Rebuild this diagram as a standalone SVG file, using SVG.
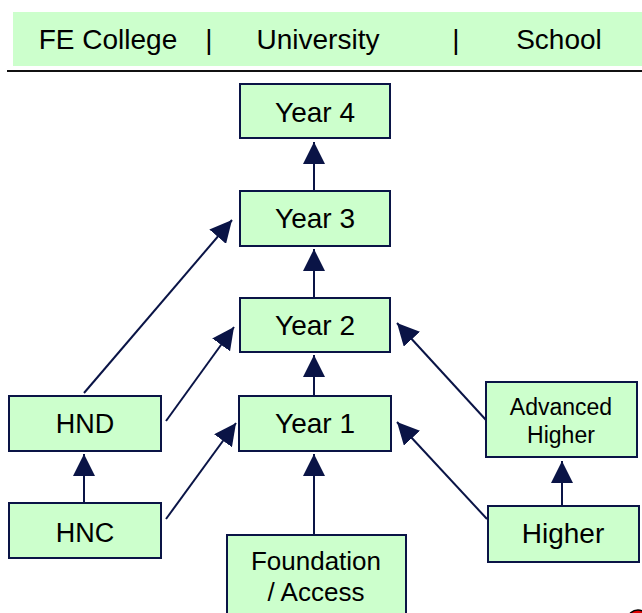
<svg xmlns="http://www.w3.org/2000/svg" width="642" height="613" viewBox="0 0 642 613">
<style>
.box{fill:#ccffcc;stroke:#0a1446;stroke-width:2}
.t{font-family:"Liberation Sans",Arial,sans-serif;fill:#000;text-anchor:middle}
.c{stroke:#0a1446;stroke-width:2;fill:none;marker-end:url(#ah)}
</style>
<defs>
<marker id="ah" markerUnits="userSpaceOnUse" markerWidth="22" markerHeight="22" viewBox="0 0 20 20" refX="20" refY="10" orient="auto">
<path d="M0,0 L20,10 L0,20 z" fill="#0a1446"/>
</marker>
</defs>
<g id="header">
<rect x="13" y="12" width="629" height="54" fill="#ccffcc"/>
<text class="t" x="108" y="49" font-size="28">FE College</text>
<text class="t" x="209" y="49" font-size="28">|</text>
<text class="t" x="318" y="49" font-size="28">University</text>
<text class="t" x="456" y="49" font-size="28">|</text>
<text class="t" x="559" y="49" font-size="28">School</text>
<line x1="7" y1="71" x2="642" y2="71" stroke="#111" stroke-width="2"/>
</g>
<g id="connectors">
<line class="c" x1="314" y1="191" x2="314" y2="142"/>
<line class="c" x1="314" y1="298" x2="314" y2="249"/>
<line class="c" x1="314" y1="396" x2="314" y2="355"/>
<line class="c" x1="314" y1="535" x2="314" y2="454"/>
<line class="c" x1="84" y1="503" x2="84" y2="454"/>
<line class="c" x1="562" y1="506" x2="562" y2="461"/>
<line class="c" x1="84" y1="393" x2="232" y2="220"/>
<line class="c" x1="166" y1="421" x2="234" y2="327"/>
<line class="c" x1="166" y1="519" x2="236" y2="423"/>
<line class="c" x1="486" y1="420" x2="397" y2="323"/>
<line class="c" x1="487" y1="519" x2="397" y2="422"/>
</g>
<g id="year4"><rect class="box" x="240" y="84" width="150" height="54"/><text class="t" x="315" y="122" font-size="28">Year 4</text></g>
<g id="year3"><rect class="box" x="240" y="191" width="150" height="55"/><text class="t" x="315" y="228" font-size="28">Year 3</text></g>
<g id="year2"><rect class="box" x="240" y="298" width="150" height="54"/><text class="t" x="315" y="335" font-size="28">Year 2</text></g>
<g id="year1"><rect class="box" x="239" y="396" width="152" height="55"/><text class="t" x="315" y="433" font-size="28">Year 1</text></g>
<g id="foundation"><rect class="box" x="227" y="535" width="179" height="85"/><text class="t" x="316" y="570" font-size="26">Foundation</text><text class="t" x="316" y="601" font-size="26">/ Access</text></g>
<g id="hnd"><rect class="box" x="9" y="396" width="152" height="55"/><text class="t" x="85" y="433" font-size="27">HND</text></g>
<g id="hnc"><rect class="box" x="9" y="503" width="152" height="55"/><text class="t" x="85" y="542" font-size="27">HNC</text></g>
<g id="advhigher"><rect class="box" x="486" y="382" width="151" height="75"/><text class="t" x="561" y="415" font-size="23">Advanced</text><text class="t" x="561" y="443" font-size="23">Higher</text></g>
<g id="higher"><rect class="box" x="488" y="506" width="151" height="56"/><text class="t" x="563" y="543" font-size="28">Higher</text></g>
<ellipse cx="638" cy="619" rx="10" ry="9" fill="#e00000" stroke="#000" stroke-width="1.5"/>
</svg>
